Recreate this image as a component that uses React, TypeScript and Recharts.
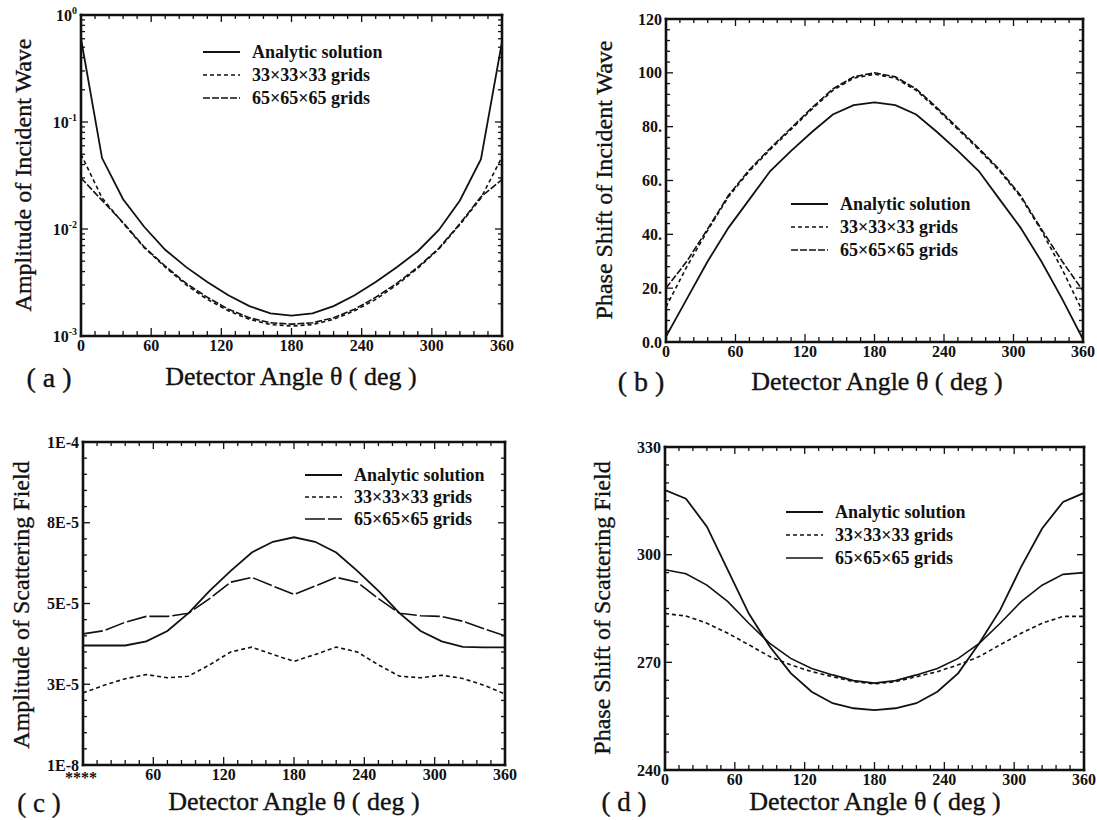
import React from 'react';
import { LineChart, Line, XAxis, YAxis, Legend } from 'recharts';

// ---------- data ----------
const angles = [0, 18, 36, 54, 72, 90, 108, 126, 144, 162, 180, 198, 216, 234, 252, 270, 288, 306, 324, 342, 360];

// (a) Amplitude of incident wave (log scale)
const incAmpAnalytic = [0.6, 0.046, 0.019, 0.0105, 0.0064, 0.0044, 0.0032, 0.0024, 0.0019, 0.00163, 0.00155, 0.00163, 0.0019, 0.0024, 0.0032, 0.0044, 0.0062, 0.0098, 0.0185, 0.045, 0.56];
const incAmp33 = [0.05, 0.0195, 0.0113, 0.0067, 0.0044, 0.003, 0.0022, 0.00172, 0.00143, 0.00128, 0.00124, 0.00128, 0.00143, 0.00172, 0.0022, 0.003, 0.0043, 0.0065, 0.011, 0.0195, 0.047];
const incAmp65 = [0.03, 0.0185, 0.0115, 0.0068, 0.0045, 0.0031, 0.0023, 0.00178, 0.00148, 0.00133, 0.00129, 0.00133, 0.00148, 0.00178, 0.0023, 0.0031, 0.0044, 0.0066, 0.0112, 0.02, 0.029];

// (b) Phase shift of incident wave
const incPhaseAnalytic = [2, 16, 30, 42.5, 53, 63.5, 71, 78, 84.5, 88, 89, 88, 84.5, 78, 71, 63.5, 53, 42.5, 30, 16, 1];
const incPhase33 = [13, 28, 41.5, 54, 63.5, 71.5, 79, 86.5, 93.5, 98, 99.5, 98, 93.5, 86.5, 79, 71.5, 63.5, 54, 41.5, 27, 11];
const incPhase65 = [20, 30, 42, 54.5, 64, 72, 79.5, 87, 94, 98.5, 100, 98.5, 94, 87, 79.5, 72, 64, 54.5, 42, 30, 19];

// (c) Amplitude of scattering field, in units of 1E-5
const scatAmpAnalytic = [3.7, 3.7, 3.7, 3.83, 4.15, 4.7, 5.39, 6.01, 6.58, 6.91, 7.05, 6.91, 6.58, 6.01, 5.39, 4.7, 4.15, 3.83, 3.66, 3.64, 3.64];
const scatAmp33 = [2.23, 2.47, 2.67, 2.8, 2.7, 2.75, 3.1, 3.5, 3.65, 3.42, 3.21, 3.42, 3.65, 3.5, 3.1, 2.75, 2.7, 2.78, 2.68, 2.47, 2.2];
const scatAmp65 = [4.06, 4.16, 4.42, 4.6, 4.6, 4.7, 5.15, 5.66, 5.81, 5.54, 5.28, 5.54, 5.81, 5.66, 5.15, 4.7, 4.62, 4.6, 4.45, 4.22, 4.0];

// (d) Phase shift of scattering field
const scatPhaseAnalytic = [318, 315.6, 307.8, 295.7, 283.6, 274.4, 267, 261.8, 258.6, 257.2, 256.7, 257.2, 258.6, 261.8, 267, 275.3, 284.6, 296.6, 307.3, 314.7, 317.2];
const scatPhase33 = [283.6, 282.9, 280.9, 278.1, 274.9, 271.6, 269.3, 267.4, 266, 264.6, 264.0, 264.6, 266, 267.4, 269.3, 271.6, 274.9, 278.1, 280.9, 282.8, 282.8];
const scatPhase65 = [295.8, 294.7, 291.5, 286.9, 280.9, 275.3, 271.1, 268.3, 266.5, 264.9, 264.2, 264.9, 266.5, 268.3, 271.1, 275.3, 280.9, 286.9, 291.5, 294.5, 295];

const seriesNames = ['Analytic solution', '33×33×33 grids', '65×65×65 grids'];

// ---------- ticks ----------
const xTicks = [0, 12, 24, 36, 48, 60, 72, 84, 96, 108, 120, 132, 144, 156, 168, 180, 192, 204, 216, 228, 240, 252, 264, 276, 288, 300, 312, 324, 336, 348, 360];
const xMajor = [0, 60, 120, 180, 240, 300, 360];
const xLabels = ['0', '60', '120', '180', '240', '300', '360'];
const xLabelsC = ['****', '60', '120', '180', '240', '300', '360'];

const yTicksA = [0.001, 0.002, 0.003, 0.004, 0.005, 0.006, 0.007, 0.008, 0.009, 0.01, 0.02, 0.03, 0.04, 0.05, 0.06, 0.07, 0.08, 0.09, 0.1, 0.2, 0.3, 0.4, 0.5, 0.6, 0.7, 0.8, 0.9, 1];
const yMajorA = [0.001, 0.01, 0.1, 1];
const yExpA = ['-3', '-2', '-1', '0'];

const yTicksB = [0, 4, 8, 12, 16, 20, 24, 28, 32, 36, 40, 44, 48, 52, 56, 60, 64, 68, 72, 76, 80, 84, 88, 92, 96, 100, 104, 108, 112, 116, 120];
const yMajorB = [0, 20, 40, 60, 80, 100, 120];
const yLabelsB = ['0.0', '20.', '40.', '60.', '80.', '100', '120'];

const yTicksC = [0, 0.5, 1, 1.5, 2, 2.5, 3, 3.5, 4, 4.5, 5, 5.5, 6, 6.5, 7, 7.5, 8, 8.5, 9, 9.5, 10];
const yMajorC = [0, 2.5, 5, 7.5, 10];
const yLabelsC = ['1E-8', '3E-5', '5E-5', '8E-5', '1E-4'];

const yTicksD = [240, 245, 250, 255, 260, 265, 270, 275, 280, 285, 290, 295, 300, 305, 310, 315, 320, 325, 330];
const yMajorD = [240, 270, 300, 330];
const yLabelsD = ['240', '270', '300', '330'];

// ---------- style ----------
const FONT = '"Liberation Serif", "Times New Roman", serif';
const INK = '#111';
const MAJ = 7;
const MIN = 4;
const frameLine = { stroke: INK, strokeWidth: 2.6, strokeLinecap: 'square' as const };

const findIdx = (list: number[], v: number) => list.findIndex((m) => Math.abs(m - v) <= 1e-9 * Math.max(1e-3, Math.abs(m)));

const tickText = { fontFamily: FONT, fontWeight: 'bold' as const, fontSize: 16, fill: INK };

const bottomTick = (labels: string[]) => (p: any) => {
  const i = findIdx(xMajor, p.payload.value);
  const yb = p.y - 1;
  const stars = i >= 0 && labels[i] === '****';
  return (
    <g>
      <line x1={p.x} x2={p.x} y1={yb} y2={yb - (i >= 0 ? MAJ : MIN)} stroke={INK} strokeWidth={1.3} />
      {i >= 0 ? (
        <text x={stars ? p.x - 2 : p.x} y={yb + (stars ? 19 : 16)} textAnchor="middle" {...tickText}>{labels[i]}</text>
      ) : null}
    </g>
  );
};

const topTick = (p: any) => {
  const i = findIdx(xMajor, p.payload.value);
  return <line x1={p.x} x2={p.x} y1={p.y} y2={p.y + (i >= 0 ? MAJ : MIN)} stroke={INK} strokeWidth={1.3} />;
};

const leftTick = (major: number[], render: (i: number) => React.ReactNode) => (p: any) => {
  const i = findIdx(major, p.payload.value);
  return (
    <g>
      <line x1={p.x} x2={p.x + (i >= 0 ? MAJ : MIN)} y1={p.y} y2={p.y} stroke={INK} strokeWidth={1.3} />
      {i >= 0 ? (
        <text x={p.x - 4} y={p.y + 5.5} textAnchor="end" {...tickText}>{render(i)}</text>
      ) : null}
    </g>
  );
};

const rightTick = (major: number[]) => (p: any) => {
  const i = findIdx(major, p.payload.value);
  return <line x1={p.x} x2={p.x - (i >= 0 ? MAJ : MIN)} y1={p.y} y2={p.y} stroke={INK} strokeWidth={1.3} />;
};

type Rect = { x0: number; y0: number; x1: number; y1: number };
type Box = { left: number; top: number; width: number; height: number };

type PanelProps = {
  box: Box;
  plot: Rect;
  analytic: number[];
  g33: number[];
  g65: number[];
  yScale: 'log' | 'linear';
  yDomain: [number, number];
  yTicks: number[];
  yMajor: number[];
  yRender: (i: number) => React.ReactNode;
  xLabelList: string[];
  dash65: string;
  legendPos: { left: number; top: number; row: number };
};

const LegendBox = ({ dash65, row }: { dash65: string; row: number }) => {
  const dashes = ['', '4 3', dash65];
  const widths = [1.9, 1.6, 1.6];
  return (
    <div style={{ fontFamily: FONT, fontWeight: 'bold', fontSize: 18, color: INK }}>
      {seriesNames.map((n, i) => (
        <div key={n} style={{ height: row, display: 'flex', alignItems: 'center', whiteSpace: 'nowrap' }}>
          <svg width={37} height={6} style={{ display: 'block' }}>
            <line x1={0} x2={37} y1={3} y2={3} stroke={INK} strokeWidth={widths[i]} strokeDasharray={dashes[i] || undefined} />
          </svg>
          <span style={{ marginLeft: 12, lineHeight: 1 }}>{n}</span>
        </div>
      ))}
    </div>
  );
};

const Panel = (props: PanelProps) => {
  const { box, plot } = props;
  const data = angles.map((a, i) => ({ angle: a, analytic: props.analytic[i], g33: props.g33[i], g65: props.g65[i] }));
  const margin = {
    top: plot.y0 - box.top - 1,
    bottom: box.top + box.height - plot.y1 - 1,
    left: plot.x0 - box.left - 1,
    right: box.left + box.width - plot.x1 - 1,
  };
  return (
    <div style={{ position: 'absolute', left: box.left, top: box.top, width: box.width, height: box.height }}>
      <LineChart width={box.width} height={box.height} data={data} margin={margin}>
        <XAxis xAxisId="x" dataKey="angle" type="number" domain={[0, 360]} allowDataOverflow ticks={xTicks} interval={0}
          height={1} tickSize={0} tickMargin={0} tickLine={false} axisLine={frameLine} tick={bottomTick(props.xLabelList)} />
        <XAxis xAxisId="t" orientation="top" dataKey="angle" type="number" domain={[0, 360]} allowDataOverflow ticks={xTicks} interval={0}
          height={1} tickSize={0} tickMargin={0} tickLine={false} axisLine={frameLine} tick={topTick} />
        <YAxis yAxisId="y" type="number" scale={props.yScale} domain={props.yDomain} allowDataOverflow ticks={props.yTicks} interval={0}
          width={1} tickSize={0} tickMargin={0} tickLine={false} axisLine={frameLine} tick={leftTick(props.yMajor, props.yRender)} />
        <YAxis yAxisId="r" orientation="right" type="number" scale={props.yScale} domain={props.yDomain} allowDataOverflow ticks={props.yTicks} interval={0}
          width={1} tickSize={0} tickMargin={0} tickLine={false} axisLine={frameLine} tick={rightTick(props.yMajor)} />
        <Legend layout="vertical" align="center" verticalAlign="middle"
          wrapperStyle={{ left: props.legendPos.left, top: props.legendPos.top, width: 240 }}
          content={() => <LegendBox dash65={props.dash65} row={props.legendPos.row} />} />
        <Line xAxisId="x" yAxisId="y" type="linear" dataKey="analytic" name={seriesNames[0]} stroke={INK} strokeWidth={1.8} dot={false} isAnimationActive={false} />
        <Line xAxisId="x" yAxisId="y" type="linear" dataKey="g33" name={seriesNames[1]} stroke={INK} strokeWidth={1.6} strokeDasharray="4 3" dot={false} isAnimationActive={false} />
        <Line xAxisId="x" yAxisId="y" type="linear" dataKey="g65" name={seriesNames[2]} stroke={INK} strokeWidth={1.6} strokeDasharray={props.dash65 || undefined} dot={false} isAnimationActive={false} />
      </LineChart>
    </div>
  );
};

const titleStyle = (cx: number, cy: number, rotate: boolean, size = 24): React.CSSProperties => ({
  position: 'absolute',
  left: cx,
  top: cy,
  transform: rotate ? 'translate(-50%, -50%) rotate(-90deg)' : 'translate(-50%, -50%)',
  fontFamily: FONT,
  fontSize: size,
  color: INK,
  whiteSpace: 'nowrap',
  lineHeight: 1,
  WebkitTextStroke: '0.35px #111',
});

const xTitle = 'Detector Angle θ ( deg )';

export default function App() {
  return (
    <div style={{ position: 'absolute', left: 0, top: 0, width: 1097, height: 820, background: '#fff', overflow: 'hidden' }}>
      <Panel
        box={{ left: 0, top: 0, width: 548, height: 410 }}
        plot={{ x0: 81, y0: 15, x1: 502, y1: 336 }}
        analytic={incAmpAnalytic} g33={incAmp33} g65={incAmp65}
        yScale="log" yDomain={[0.001, 1]} yTicks={yTicksA} yMajor={yMajorA}
        yRender={(i) => (<><tspan>10</tspan><tspan dy={-7} fontSize={10}>{yExpA[i]}</tspan></>)}
        xLabelList={xLabels} dash65="7 2" legendPos={{ left: 203, top: 40, row: 23 }}
      />
      <Panel
        box={{ left: 548, top: 0, width: 549, height: 410 }}
        plot={{ x0: 666, y0: 19, x1: 1083, y1: 342 }}
        analytic={incPhaseAnalytic} g33={incPhase33} g65={incPhase65}
        yScale="linear" yDomain={[0, 120]} yTicks={yTicksB} yMajor={yMajorB}
        yRender={(i) => yLabelsB[i]}
        xLabelList={xLabels} dash65="7 2" legendPos={{ left: 243, top: 192, row: 23 }}
      />
      <Panel
        box={{ left: 0, top: 410, width: 548, height: 410 }}
        plot={{ x0: 83, y0: 442, x1: 505, y1: 765 }}
        analytic={scatAmpAnalytic} g33={scatAmp33} g65={scatAmp65}
        yScale="linear" yDomain={[0, 10]} yTicks={yTicksC} yMajor={yMajorC}
        yRender={(i) => yLabelsC[i]}
        xLabelList={xLabelsC} dash65="20 3" legendPos={{ left: 305, top: 54, row: 22 }}
      />
      <Panel
        box={{ left: 548, top: 410, width: 549, height: 410 }}
        plot={{ x0: 665, y0: 447, x1: 1084, y1: 770 }}
        analytic={scatPhaseAnalytic} g33={scatPhase33} g65={scatPhase65}
        yScale="linear" yDomain={[240, 330]} yTicks={yTicksD} yMajor={yMajorD}
        yRender={(i) => yLabelsD[i]}
        xLabelList={xLabels} dash65="" legendPos={{ left: 238, top: 90, row: 23 }}
      />

      <div style={titleStyle(291, 377, false, 26)}>{xTitle}</div>
      <div style={titleStyle(877, 382, false, 26)}>{xTitle}</div>
      <div style={titleStyle(294, 802, false, 26)}>{xTitle}</div>
      <div style={titleStyle(875, 802, false, 26)}>{xTitle}</div>

      <div style={titleStyle(23, 175, true)}>Amplitude of Incident Wave</div>
      <div style={titleStyle(604, 180, true)}>Phase Shift of Incident Wave</div>
      <div style={titleStyle(21, 605, true)}>Amplitude of Scattering Field</div>
      <div style={titleStyle(602, 608, true)}>Phase Shift of Scattering Field</div>

      <div style={titleStyle(49, 378, false, 28)}>( a )</div>
      <div style={titleStyle(641, 382, false, 28)}>( b )</div>
      <div style={titleStyle(39, 803, false, 27)}>( c )</div>
      <div style={titleStyle(624, 802, false, 27)}>( d )</div>
    </div>
  );
}
